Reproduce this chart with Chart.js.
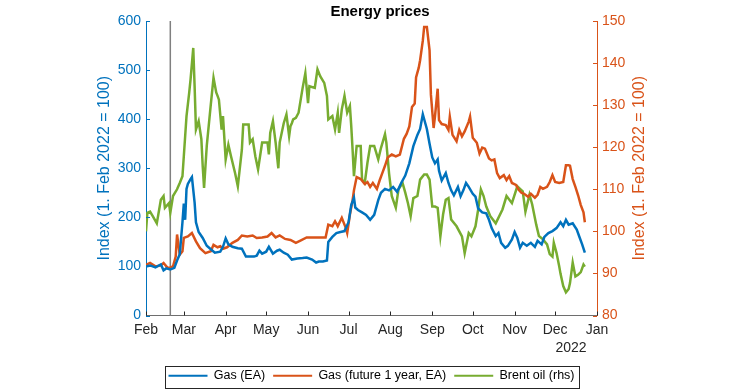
<!DOCTYPE html>
<html>
<head>
<meta charset="utf-8">
<script src="https://cdn.jsdelivr.net/npm/chart.js@4.4.0/dist/chart.umd.min.js"></script>
<style>
  html, body { margin: 0; padding: 0; background: #fff; }
</style>
</head>
<body>
<canvas id="chart" width="730" height="392"></canvas>
<script>
  // x values are days since 1 Feb 2022
  var monthDays = [0, 28, 59, 89, 120, 150, 181, 212, 242, 273, 303, 334];
  var monthLabels = ["Feb", "Mar", "Apr", "May", "Jun", "Jul", "Aug", "Sep", "Oct", "Nov", "Dec", "Jan"];
  var markerDay = 18;

  // Gas (EA), left axis
  var gasDays = [0,3,7,11,13,15,18,21,23,25, 27,28,29,30,31,33,34,36,37,39,
    42,45,48,51,55,57,59,61,64,68, 71,74,77,80,82,84,86,89,91,94,
    97,99,102,105,108,112,116,119,123,126, 128,131,134,135,138,141,144,147,150,152,
    154,155,157,160,163,166,169,172,174,177, 180,183,186,189,192,195,198,201,203,205,
    208,210,212,214,216,217,219,222,224,226, 228,231,233,235,237,239,242,244,246,249,
    252,254,256,259,261,263,266,268,271,273, 275,277,279,282,285,288,290,293,295,298,
    301,304,307,309,311,313,316,319,321,323, 325];
  var gasVals = [100,102,98,104,92,96,94,97,112,125, 190,228,195,258,268,278,282,230,190,170,
    158,142,135,128,130,140,157,145,140,137, 136,120,120,120,122,132,126,130,140,126,
    132,134,128,124,114,116,117,118,114,108, 110,110,112,150,160,168,170,172,190,225,
    240,220,215,210,205,195,205,235,250,258, 255,262,252,270,285,310,345,368,380,410,
    380,350,322,310,318,295,275,290,270,255, 245,262,243,255,270,262,248,242,218,210,
    208,195,178,162,168,148,138,142,155,170, 158,138,148,142,148,140,152,145,160,168,
    172,178,190,182,195,185,188,175,160,145, 128];

  // Gas (future 1 year, EA), left axis
  var futDays = [0,3,7,11,13,16,18,20,22,23, 25,27,28,31,34,37,40,44,48,50,
    53,55,57,60,64,68,71,75,79,82, 86,90,93,96,99,103,107,111,114,119,
    125,133,135,138,140,142,145,148,149,151, 153,154,156,159,162,164,166,168,171,173,
    175,177,179,182,185,188,191,193,195,197, 199,200,202,203,205,206,208,210,211,213,
    214,216,217,219,222,224,225,227,230,232, 234,236,239,240,242,245,247,249,251,254,
    256,258,260,262,265,267,269,271,274,276, 278,280,283,285,288,290,292,294,297,299,
    301,303,306,309,311,313,314,316,318,320, 322,324,325];
  var futVals = [103,107,100,102,107,97,98,100,120,165, 124,131,158,161,168,151,137,127,131,144,
    139,141,136,139,148,154,163,161,163,158, 159,161,168,159,163,156,154,148,152,159,
    159,159,185,182,192,182,199,178,168,205, 235,255,282,278,268,272,262,270,258,275,
    290,305,322,328,324,328,360,370,385,425, 432,485,505,520,560,588,588,540,450,382,
    405,462,398,390,388,378,405,368,355,378, 365,375,395,405,362,352,330,342,340,320,
    316,318,290,280,286,276,284,270,266,256, 250,248,242,248,240,246,262,258,262,272,
    286,272,270,272,306,306,305,278,262,245, 225,210,190];

  // Brent oil, right axis
  var oilDays = [0,1,3,5,8,11,13,14,17,18, 20,23,25,27,29,30,32,33,35,36,
    37,39,41,42,43,45,48,50,52,53, 54,56,57,59,61,63,66,68,71,72,
    76,77,79,81,83,86,90,91,92,94, 96,98,99,102,104,106,107,108,109,111,
    113,116,118,120,121,125,127,129,132,134, 135,138,140,142,143,145,147,149,151,152,
    153,154,156,159,160,162,164,166,169,172, 174,177,178,180,182,185,187,190,192,194,
    196,198,201,203,206,208,210,212,214,216, 218,220,222,224,226,230,234,236,239,241,
    244,246,248,250,252,255,259,264,267,271, 275,277,279,281,284,286,289,291,294,297,
    299,301,302,304,306,307,309,311,313,314, 316,318,320,322,324,325];
  var oilVals = [100.0,104.4,104.7,103.6,101.9,107.5,108.4,105.6,106.7,104.4,
    108.4,110.0,111.5,113.1,122.6,127.4,133.0,136.1,143.6,134.5,
    124.2,126.2,121.9,115.5,110.3,120.3,130.2,136.5,133.0,132.2,
    131.3,124.2,127.4,117.1,120.6,117.8,113.8,110.7,119.4,125.4,
    125.4,121.1,121.9,117.8,114.7,121.1,121.1,118.3,123.4,126.2,
    121.1,115.0,121.1,125.7,127.8,122.6,125.0,125.7,126.6,127.0,
    128.2,134.1,137.6,130.5,134.5,134.1,138.5,136.9,135.3,132.2,
    126.6,127.4,124.2,128.2,123.4,129.0,132.2,128.2,129.8,125.0,
    119.4,113.1,120.3,120.3,112.3,111.5,116.3,120.3,120.3,117.1,
    119.8,123.1,121.1,113.8,108.4,105.6,110.0,111.5,109.2,106.7,
    103.6,107.9,108.4,112.3,113.5,113.5,112.3,105.9,105.9,105.6,
    98.8,104.0,107.5,107.9,102.8,101.2,98.8,94.8,99.6,98.8,
    101.2,105.2,110.0,108.4,105.9,103.6,101.9,105.2,108.4,106.7,
    110.7,110.1,109.5,104.7,108.7,106.4,101.6,98.9,98.1,96.9,
    94.6,94.0,97.3,94.9,91.7,89.9,87.0,85.5,86.3,87.7,
    92.6,89.3,89.7,90.3,92.1,91.6];

  var BLUE = '#0072BD', RED = '#D95319', GREEN = '#77AC30', DARK = '#262626';
  var FONT = '"Liberation Sans", Arial, Helvetica, sans-serif';

  function pts(days, vals) {
    return days.map(function (d, i) { return { x: d, y: vals[i] }; });
  }

  var extras = {
    id: 'extras',
    beforeDatasetsDraw: function (chart) {
      var ctx = chart.ctx, a = chart.chartArea;
      var px = chart.scales.x.getPixelForValue(markerDay);
      ctx.save();
      ctx.strokeStyle = '#808080';
      ctx.lineWidth = 1.5;
      ctx.beginPath();
      ctx.moveTo(px, a.top);
      ctx.lineTo(px, a.bottom);
      ctx.stroke();
      ctx.restore();
    },
    afterDraw: function (chart) {
      var ctx = chart.ctx, a = chart.chartArea;
      var xs = chart.scales.x, yl = chart.scales.y, yr = chart.scales.y1;
      ctx.save();
      ctx.lineWidth = 1;
      // inner tick marks
      ctx.strokeStyle = DARK;
      xs.ticks.forEach(function (t) {
        var p = Math.round(xs.getPixelForValue(t.value)) + 0.5;
        ctx.beginPath(); ctx.moveTo(p, a.bottom); ctx.lineTo(p, a.bottom - 4); ctx.stroke();
      });
      ctx.strokeStyle = BLUE;
      yl.ticks.forEach(function (t) {
        var p = Math.round(yl.getPixelForValue(t.value)) + 0.5;
        ctx.beginPath(); ctx.moveTo(a.left, p); ctx.lineTo(a.left + 4, p); ctx.stroke();
      });
      ctx.strokeStyle = RED;
      yr.ticks.forEach(function (t) {
        var p = Math.round(yr.getPixelForValue(t.value)) + 0.5;
        ctx.beginPath(); ctx.moveTo(a.right, p); ctx.lineTo(a.right - 4, p); ctx.stroke();
      });

      // right axis title, reading bottom to top
      ctx.fillStyle = RED;
      ctx.font = '16px ' + FONT;
      ctx.textAlign = 'center';
      ctx.textBaseline = 'middle';
      ctx.translate(640, (a.top + a.bottom) / 2);
      ctx.rotate(-Math.PI / 2);
      ctx.fillText('Index (1. Feb 2022 = 100)', 0, 0);
      ctx.setTransform(1, 0, 0, 1, 0, 0);

      // year under the x axis
      ctx.fillStyle = DARK;
      ctx.font = '14px ' + FONT;
      ctx.fillText('2022', a.right - 26, 348);

      // legend frame
      var boxes = chart.legend.legendHitBoxes;
      if (boxes && boxes.length) {
        var l = boxes[0].left, r = 0, cy = boxes[0].top + boxes[0].height / 2;
        boxes.forEach(function (b) { l = Math.min(l, b.left); r = Math.max(r, b.left + b.width); });
        ctx.strokeStyle = DARK;
        ctx.lineWidth = 1;
        ctx.strokeRect(Math.round(l - 4) + 0.5, Math.round(cy - 10) + 0.5, Math.round(r - l + 8), 22);
      }
      ctx.restore();
    }
  };

  var ctx = document.getElementById('chart').getContext('2d');
  var chart = new Chart(ctx, {
    type: 'line',
    data: {
      datasets: [{
        label: 'Gas (EA)',
        data: pts(gasDays, gasVals),
        borderColor: BLUE,
        backgroundColor: BLUE,
        pointBorderColor: BLUE,
        pointBorderWidth: 2,
        yAxisID: 'y'
      }, {
        label: 'Gas (future 1 year, EA)',
        data: pts(futDays, futVals),
        borderColor: RED,
        backgroundColor: RED,
        pointBorderColor: RED,
        pointBorderWidth: 2,
        yAxisID: 'y'
      }, {
        label: 'Brent oil (rhs)',
        data: pts(oilDays, oilVals),
        borderColor: GREEN,
        backgroundColor: GREEN,
        pointBorderColor: GREEN,
        pointBorderWidth: 2,
        yAxisID: 'y1'
      }]
    },
    options: {
      responsive: false,
      animation: false,
      elements: {
        line: { borderWidth: 2.5, tension: 0 },
        point: { radius: 0, hoverRadius: 0 }
      },
      layout: { padding: { left: 90, right: 60, top: 0, bottom: 0 } },
      scales: {
        x: {
          type: 'linear',
          min: 0,
          max: 334,
          afterBuildTicks: function (s) {
            s.ticks = monthDays.map(function (d) { return { value: d }; });
          },
          afterFit: function (s) { s.height = 46; },
          ticks: {
            autoSkip: false,
            maxRotation: 0,
            padding: 6,
            color: DARK,
            font: { size: 14, family: FONT },
            callback: function (v, i) { return monthLabels[i]; }
          },
          grid: { display: true, drawOnChartArea: false, drawTicks: false },
          border: { display: true, color: '#6e6e6e', width: 1 }
        },
        y: {
          position: 'left',
          min: 0,
          max: 600,
          afterFit: function (s) { s.width = 146 - 90; },
          ticks: {
            stepSize: 100,
            padding: 5,
            color: BLUE,
            font: { size: 14, family: FONT }
          },
          title: {
            display: true,
            text: 'Index (1. Feb 2022 = 100)',
            color: BLUE,
            font: { size: 16, family: FONT },
            padding: { top: 5, bottom: 5 }
          },
          grid: { display: true, drawOnChartArea: false, drawTicks: false },
          border: { display: true, color: BLUE, width: 1 }
        },
        y1: {
          position: 'right',
          min: 80,
          max: 150,
          afterFit: function (s) { s.width = 730 - 597 - 60; },
          ticks: {
            stepSize: 10,
            padding: 5,
            color: RED,
            font: { size: 14, family: FONT }
          },
          grid: { display: true, drawOnChartArea: false, drawTicks: false },
          border: { display: true, color: RED, width: 1 }
        }
      },
      plugins: {
        title: {
          display: true,
          text: 'Energy prices',
          color: '#000',
          font: { size: 15, weight: 'bold', family: FONT },
          padding: { top: 3, bottom: 0 }
        },
        legend: {
          position: 'bottom',
          fullSize: false,
          labels: {
            usePointStyle: true,
            pointStyle: 'line',
            pointStyleWidth: 39,
            padding: 8,
            color: '#000',
            font: { size: 12.5, family: FONT }
          }
        },
        tooltip: { enabled: false }
      }
    },
    plugins: [extras]
  });
</script>
</body>
</html>
